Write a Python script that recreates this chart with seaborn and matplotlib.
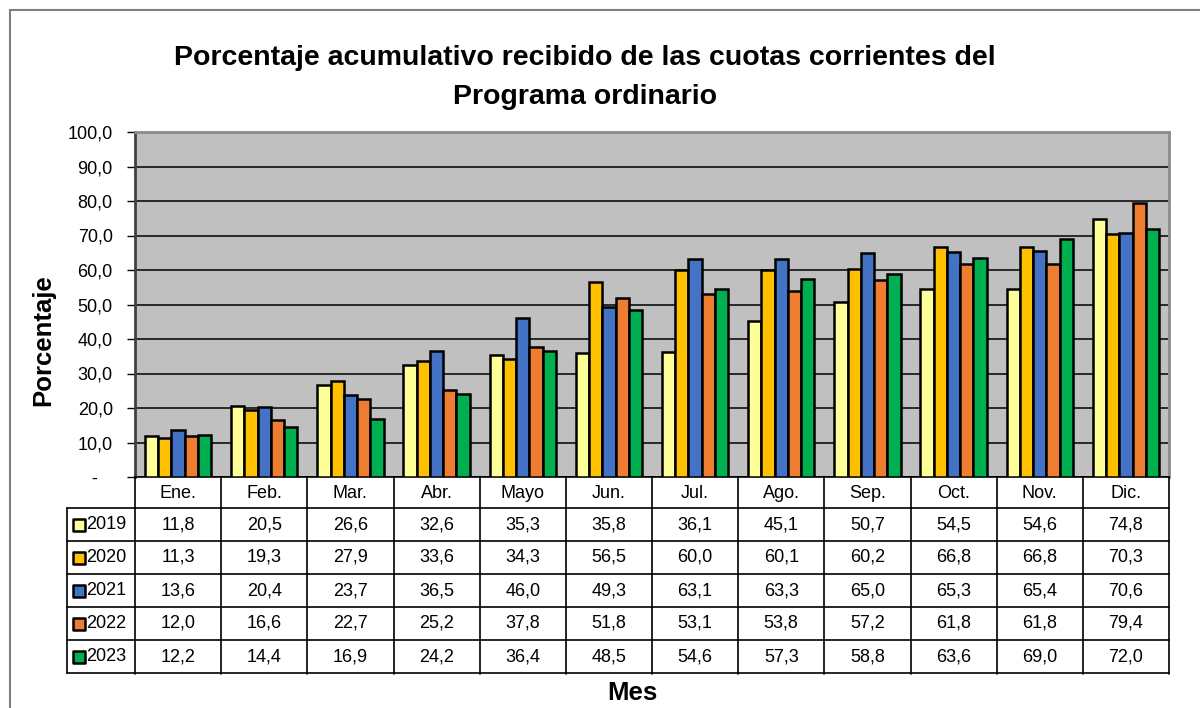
import numpy as np
import pandas as pd
import matplotlib
matplotlib.use("Agg")
import matplotlib.pyplot as plt
import seaborn as sns
from matplotlib.ticker import FuncFormatter
from matplotlib.patches import Rectangle

meses = ["Ene.", "Feb.", "Mar.", "Abr.", "Mayo", "Jun.", "Jul.", "Ago.", "Sep.", "Oct.", "Nov.", "Dic."]
anios = ["2019", "2020", "2021", "2022", "2023"]
v2019 = [11.8, 20.5, 26.6, 32.6, 35.3, 35.8, 36.1, 45.1, 50.7, 54.5, 54.6, 74.8]
v2020 = [11.3, 19.3, 27.9, 33.6, 34.3, 56.5, 60.0, 60.1, 60.2, 66.8, 66.8, 70.3]
v2021 = [13.6, 20.4, 23.7, 36.5, 46.0, 49.3, 63.1, 63.3, 65.0, 65.3, 65.4, 70.6]
v2022 = [12.0, 16.6, 22.7, 25.2, 37.8, 51.8, 53.1, 53.8, 57.2, 61.8, 61.8, 79.4]
v2023 = [12.2, 14.4, 16.9, 24.2, 36.4, 48.5, 54.6, 57.3, 58.8, 63.6, 69.0, 72.0]
colores = ["#FFFF99", "#FFC000", "#4472C4", "#ED7D31", "#00B050"]

series = [v2019, v2020, v2021, v2022, v2023]
df = pd.DataFrame({
    "mes": meses * len(anios),
    "anio": np.repeat(anios, len(meses)),
    "valor": np.concatenate(series),
})

sns.set_style("white")
plt.rcParams["font.family"] = ["Liberation Sans", "DejaVu Sans"]
plt.rcParams["text.color"] = "black"
plt.rcParams["ytick.color"] = "black"
plt.rcParams["ytick.labelcolor"] = "black"

W, H = 1200, 708
fig = plt.figure(figsize=(12, 7.08), dpi=100)

def px(x0, y0, x1, y1):
    # pixel box (top-left origin) -> figure fraction rect
    return [x0 / W, 1 - y1 / H, (x1 - x0) / W, (y1 - y0) / H]

# outer chart frame
fig.patches.append(Rectangle((10 / W, -0.1), 1.2, 1 - 10 / H + 0.1, transform=fig.transFigure,
                             fill=False, edgecolor="#7f7f7f", linewidth=1.5))

ax = fig.add_axes(px(135, 132, 1169, 477))
ax.set_facecolor("#C0C0C0")
sns.barplot(data=df, x="mes", y="valor", hue="anio", palette=colores, width=0.77, saturation=1,
            edgecolor="black", linewidth=1.8, ax=ax, legend=False, zorder=3)
ax.set_ylim(0, 100)
ax.set_xlim(-0.5, 11.5)
ax.set_yticks(np.arange(0, 101, 10))
# excel-style accounting format: zero shown as a dash
ax.yaxis.set_major_formatter(FuncFormatter(lambda v, p: "-   " if v == 0 else f"{v:.1f}".replace(".", ",")))
ax.tick_params(axis="y", length=6, width=1, labelsize=13, pad=10, left=True, direction="out")
ax.tick_params(axis="x", bottom=False, labelbottom=False)
ax.grid(axis="y", color="black", linewidth=1.1, zorder=0)
ax.set_axisbelow(True)
ax.set_xlabel("")
ax.set_ylabel("")
for s in ["top", "right"]:
    ax.spines[s].set_color("#8c8c8c")
    ax.spines[s].set_linewidth(2)
ax.spines["left"].set_color("#404040")
ax.spines["left"].set_linewidth(2)
ax.spines["bottom"].set_color("black")
ax.spines["bottom"].set_linewidth(1.2)

# data table under the plot
xl = -0.5 - (135 - 67) / ((1169 - 135) / 12)
tb = fig.add_axes(px(67, 477, 1169, 674))
tb.set_xlim(xl, 11.5)
tb.set_ylim(197, 0)
tb.axis("off")
row_y = [31 + 33 * i for i in range(6)]
lc = "black"
for y in row_y:
    tb.plot([xl, 11.5], [y, y], color=lc, lw=1.2, clip_on=False)
for k in range(13):
    tb.plot([k - 0.5, k - 0.5], [0, 197], color=lc, lw=1.2, clip_on=False)
tb.plot([xl, xl], [31, 196], color=lc, lw=1.2, clip_on=False)
for i, m in enumerate(meses):
    tb.text(i, 16, m, ha="center", va="center", fontsize=13)
for r, (anio, vals, col) in enumerate(zip(anios, series, colores)):
    yc = 31 + 33 * r + 16.5
    tb.scatter([xl + 0.14], [yc], marker="s", s=70, color=col, edgecolor="black", linewidth=1.8,
               clip_on=False, zorder=3)
    tb.text(xl + 0.22, yc, anio, ha="left", va="center", fontsize=13)
    for i, v in enumerate(vals):
        tb.text(i, yc, f"{v:.1f}".replace(".", ","), ha="center", va="center", fontsize=13)

fig.text(585 / W, 1 - 58 / H, "Porcentaje acumulativo recibido de las cuotas corrientes del",
         ha="center", va="center", fontsize=20.5, fontweight="bold")
fig.text(585 / W, 1 - 97 / H, "Programa ordinario", ha="center", va="center",
         fontsize=20.5, fontweight="bold")
fig.text(43 / W, 1 - 340 / H, "Porcentaje", rotation=90, ha="center", va="center",
         fontsize=18.5, fontweight="bold")
fig.text(632 / W, 1 - 693 / H, "Mes", ha="center", va="center", fontsize=18.5, fontweight="bold")

fig.savefig("out.png", dpi=100)
